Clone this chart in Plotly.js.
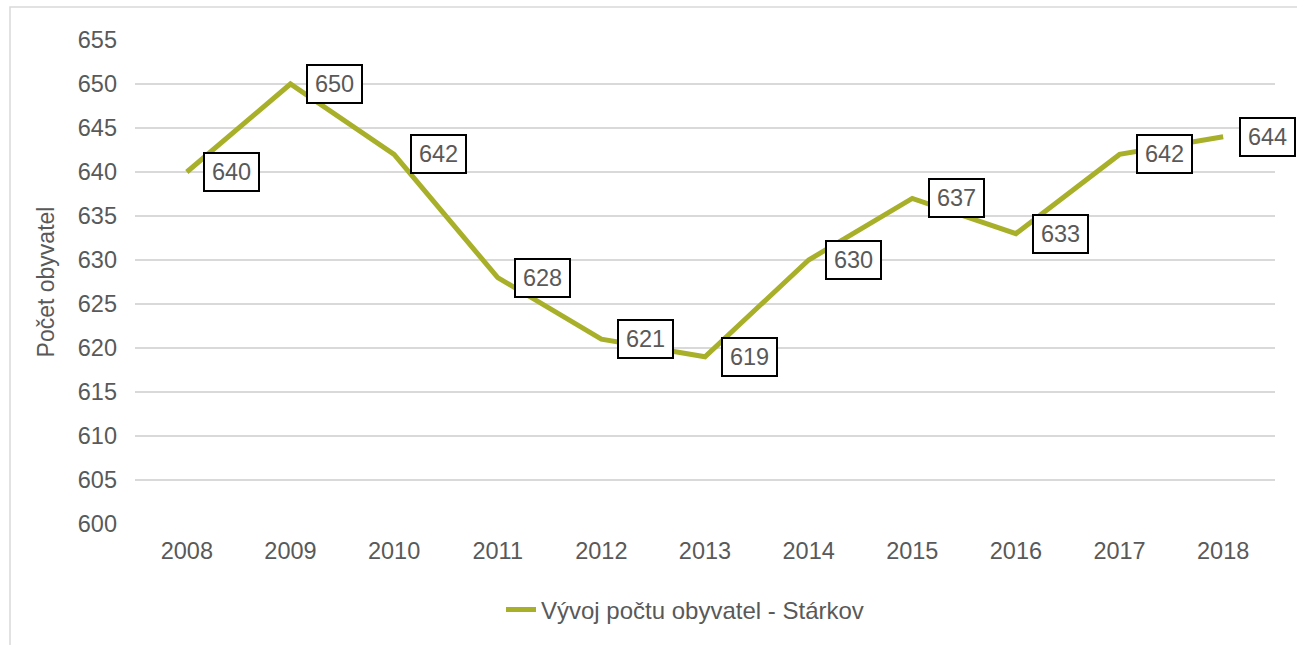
<!DOCTYPE html>
<html>
<head>
<meta charset="utf-8">
<script src="https://cdn.plot.ly/plotly-3.0.1.min.js"></script>
<style>html,body{margin:0;padding:0;background:#fff;}#chart{width:1297px;height:645px;}</style>
</head>
<body>
<div id="chart"></div>
<script>
const years = ['2008','2009','2010','2011','2012','2013','2014','2015','2016','2017','2018'];
const population = [640, 650, 642, 628, 621, 619, 630, 637, 633, 642, 644];
const yTicks = [600, 605, 610, 615, 620, 625, 630, 635, 640, 645, 650, 655];
const seriesName = 'Vývoj počtu obyvatel - Stárkov';
const yTitle = 'Počet obyvatel';

const W = 1297, H = 645, L = 135, R = 22, T = 40, B = 121;
const pw = W - L - R, ph = H - T - B;
const px = v => (v - L) / pw;
const py = v => (H - B - v) / ph;

const font = 'Liberation Sans, Arial, sans-serif';
const grey = '#595959';

const trace = {
  x: years, y: population, type: 'scatter', mode: 'lines', name: seriesName,
  line: {color: '#A8B02A', width: 5}, hoverinfo: 'skip'
};

// category axis: position i is the i-th year category
const annotations = years.map((yr, i) => ({
  x: i, y: population[i], xref: 'x', yref: 'y', text: String(population[i]),
  showarrow: false, xanchor: 'left', yanchor: 'middle', xshift: 16,
  width: 43, align: 'center',
  bgcolor: '#ffffff', bordercolor: '#000000', borderwidth: 2, borderpad: 5,
  font: {family: font, size: 23.5, color: grey}
}));

const layout = {
  width: W, height: H,
  margin: {l: L, r: R, t: T, b: B},
  paper_bgcolor: '#ffffff', plot_bgcolor: '#ffffff',
  font: {family: font, color: grey},
  showlegend: true,
  legend: {orientation: 'h', x: px(501), y: py(610), xanchor: 'left', yanchor: 'middle',
           font: {family: font, size: 24, color: grey}, bgcolor: 'rgba(0,0,0,0)'},
  xaxis: {
    type: 'category', range: [-0.5, 10.5], showgrid: false, zeroline: false,
    showline: false, ticks: '', ticklabelstandoff: 10,
    tickfont: {family: font, size: 23.5, color: grey}, fixedrange: true
  },
  yaxis: {
    range: [600, 655], tickvals: yTicks, showgrid: true, gridcolor: '#d9d9d9', gridwidth: 2,
    zeroline: false, showline: false, ticks: '', ticklabelstandoff: 17,
    tickfont: {family: font, size: 23.5, color: grey}, fixedrange: true,
    title: {text: yTitle, font: {family: font, size: 23, color: grey}, standoff: 16}
  },
  annotations: annotations,
  shapes: [{
    type: 'rect', xref: 'paper', yref: 'paper', layer: 'below',
    x0: px(10), x1: px(1310), y0: py(660), y1: py(7),
    line: {color: '#d9d9d9', width: 1.5}, fillcolor: 'rgba(0,0,0,0)'
  }]
};

Plotly.newPlot('chart', [trace], layout, {displayModeBar: false, staticPlot: true});
</script>
</body>
</html>
